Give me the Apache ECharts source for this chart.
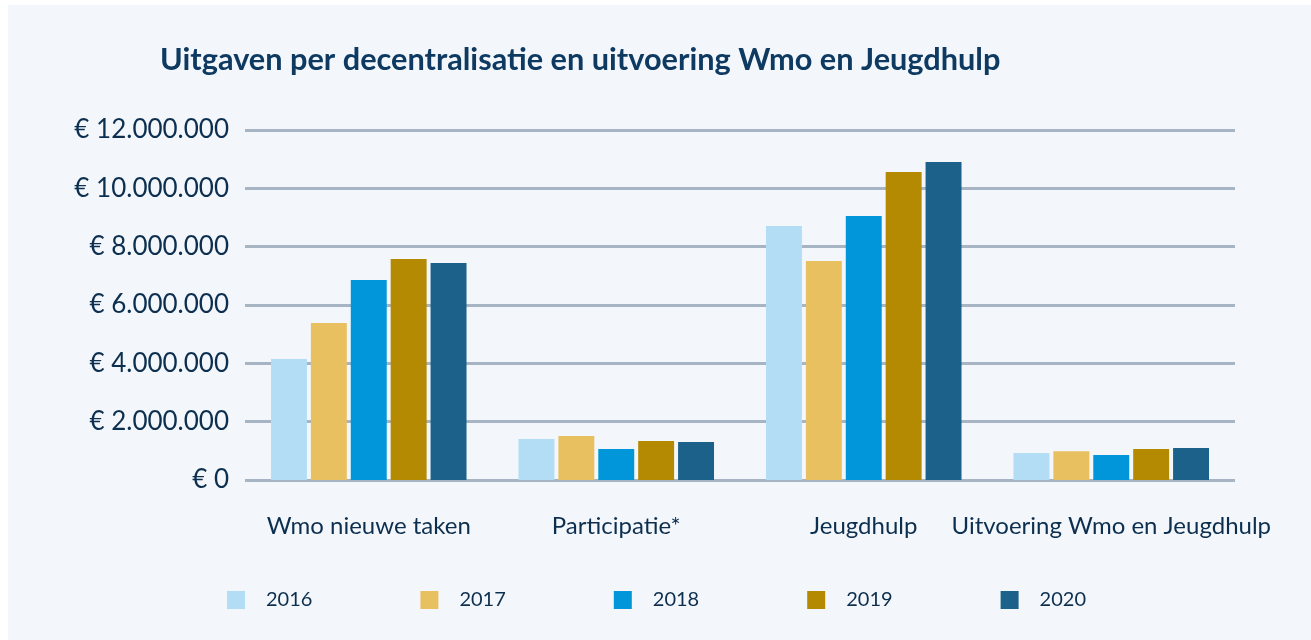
<!DOCTYPE html>
<html>
<head>
<meta charset="utf-8">
<script src="https://cdn.jsdelivr.net/npm/echarts@6/dist/echarts.min.js"></script>
<style>
  html, body { margin: 0; padding: 0; background: #fff; }
  #wrap { position: absolute; left: 8px; top: 5px; width: 1303px; height: 635px; background: #f3f7fb; }
  #chart { position: absolute; left: 0; top: 0; width: 1311px; height: 640px; }
</style>
</head>
<body>
<div id="wrap"></div>
<div id="chart"></div>
<script>
// Uitgaven per decentralisatie (euro)
const categories = ['Wmo nieuwe taken', 'Participatie*', 'Jeugdhulp', 'Uitvoering Wmo en Jeugdhulp'];
const years = ['2016', '2017', '2018', '2019', '2020'];

const v2016 = [4150000, 1410000, 8710000, 930000];
const v2017 = [5380000, 1510000, 7510000, 990000];
const v2018 = [6860000, 1060000, 9050000, 860000];
const v2019 = [7580000, 1340000, 10560000, 1060000];
const v2020 = [7440000, 1300000, 10900000, 1100000];

const yTicks = [0, 2000000, 4000000, 6000000, 8000000, 10000000, 12000000];

const COLORS = ['#b2ddf5', '#e9c05f', '#0096d9', '#b48a03', '#1b6189'];
const TEXT = '#0d2f4f';

const fmtEuro = (v) => '€ ' + String(v).replace(/\B(?=(\d{3})+(?!\d))/g, '.');

const seriesData = [v2016, v2017, v2018, v2019, v2020];

const chart = echarts.init(document.getElementById('chart'), null, { renderer: 'canvas' });
chart.setOption({
  backgroundColor: 'transparent',
  animation: false,
  title: {
    text: 'Uitgaven per decentralisatie en uitvoering Wmo en Jeugdhulp',
    left: 155, top: 40,
    textStyle: { fontFamily: 'Lato', fontWeight: 'bold', fontSize: 30.7, color: '#0e3a62' },
  },
  legend: {
    data: years,
    left: 222, top: 585,
    itemWidth: 18, itemHeight: 18, itemGap: 108,
    icon: 'rect',
    textStyle: { fontFamily: 'Lato', fontSize: 20, color: TEXT, padding: [0, 0, 0, 16] },
  },
  grid: { left: 245, right: 76, top: 130, bottom: 160 },
  xAxis: {
    type: 'category',
    data: categories,
    axisLine: { show: false },
    axisTick: { show: false },
    axisLabel: { fontFamily: 'Lato', fontSize: 24, color: TEXT, margin: 34, interval: 0 },
  },
  yAxis: {
    type: 'value',
    min: yTicks[0], max: yTicks[yTicks.length - 1], interval: 2000000,
    axisLine: { show: false },
    axisTick: { show: false },
    splitLine: { lineStyle: { color: '#a6b4c4', width: 3 } },
    axisLabel: {
      fontFamily: 'Lato', fontSize: 26, color: TEXT, margin: 16,
      padding: [7, 0, 0, 0], formatter: fmtEuro,
    },
  },
  series: years.map((y, i) => ({
    name: y,
    type: 'bar',
    data: seriesData[i],
    itemStyle: { color: COLORS[i] },
    barGap: '11%',
    barCategoryGap: '21%',
  })),
});
</script>
</body>
</html>
